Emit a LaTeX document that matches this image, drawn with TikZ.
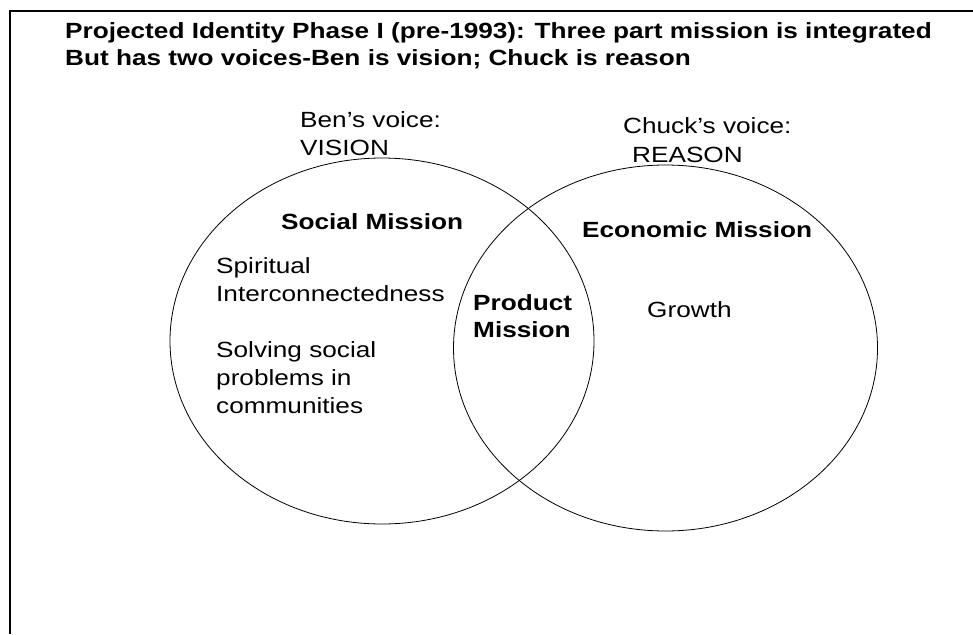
\documentclass[tikz,border=0pt]{standalone}
\usepackage{fontspec}
\setmainfont{Liberation Sans}[FakeStretch=1.19]
\usetikzlibrary{shapes.geometric}
\begin{document}
\begin{tikzpicture}[x=1pt,y=-1pt,
  lbl/.style={inner sep=0pt, anchor=base west, font=\fontsize{22}{28}\selectfont},
  bl/.style={lbl, font=\fontsize{22}{28}\selectfont\bfseries},
  venn/.style={draw, ellipse, inner sep=0pt, line width=0.8pt, minimum width=424pt, minimum height=366pt}]
\useasboundingbox (0,0) rectangle (973,634);
\coordinate (fb) at (10,634);
\coordinate (fc) at (10,11);
\coordinate (fr) at (973,11);
\draw[line width=2pt] (fb) -- (fc) -- (fr);
\node[venn] (left) at (382,341) {};
\node[venn] (right) at (665.5,348) {};
\node[bl] (t1) at (65,39) {Projected Identity Phase I (pre-1993): Three part mission is integrated};
\node[bl] (t2) at (65,65) {But has two voices-Ben is vision; Chuck is reason};
\node[lbl] (ben1) at (300,127) {Ben’s voice:};
\node[lbl] (ben2) at (300,155) {VISION};
\node[lbl] (ch1) at (623,133) {Chuck’s voice:};
\node[lbl] (ch2) at (632,162) {REASON};
\node[bl] (soc) at (281,229) {Social Mission};
\node[bl] (eco) at (582,237) {Economic Mission};
\node[lbl] (s1) at (216,273) {Spiritual};
\node[lbl] (s2) at (216,301) {Interconnectedness};
\node[lbl] (s3) at (216,357) {Solving social};
\node[lbl] (s4) at (216,385) {problems in};
\node[lbl] (s5) at (216,413) {communities};
\node[bl] (p1) at (473,310) {Product};
\node[bl] (p2) at (473,337) {Mission};
\node[lbl] (g) at (647,317) {Growth};
\end{tikzpicture}
\end{document}
